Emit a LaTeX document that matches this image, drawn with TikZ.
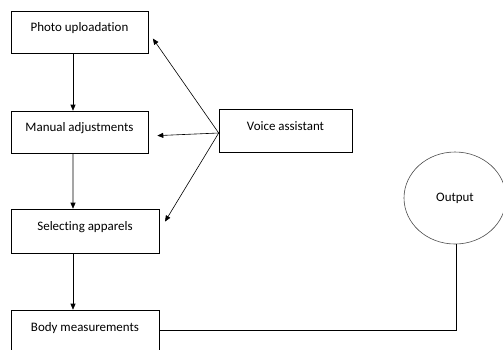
\documentclass[tikz,border=0pt]{standalone}
\usepackage{fontspec}
\setmainfont{Carlito}[Ligatures={NoCommon}]
\usepackage{tikz}
\usetikzlibrary{shapes,arrows.meta,positioning,calc}

\tikzset{
    stagebox/.style={draw, line width=0.6bp, inner sep=0pt, align=center,
        font=\fontsize{13}{15}\selectfont},
    flowarrow/.style={line width=0.6bp, -{Triangle[length=6bp,width=5bp]}}
}

\begin{document}
\begin{tikzpicture}[x=1bp, y=-1bp]
    \clip (0,0) rectangle (503,349);
    % pipeline boxes on the left
    \node[stagebox, minimum width=137bp, minimum height=42bp, text height=20bp, text depth=22bp] (photo) at (79.5,32) {Photo uploadation};
    \node[stagebox, minimum width=137bp, minimum height=42bp, text height=20bp, text depth=22bp] (manual) at (79.5,132) {Manual adjustments};
    \node[stagebox, minimum width=148bp, minimum height=44bp, text height=21bp, text depth=23bp] (selecting) at (85,231) {Selecting apparels};
    \node[stagebox, minimum width=148bp, minimum height=44bp, text height=21bp, text depth=23bp] (body) at (85,332) {Body measurements};

    \node[stagebox, minimum width=133bp, minimum height=43bp, text height=21bp, text depth=22bp] (voice) at (285.5,130.5) {Voice assistant};
    \node[draw=black!70, line width=0.6bp, ellipse, minimum width=102bp, minimum height=92bp, inner sep=0pt,
        font=\fontsize{13}{15}\selectfont] (output) at (455,198) {Output};

    % main flow
    \draw[flowarrow] ([xshift=-6.5bp]photo.south) -- ([xshift=-6.5bp]manual.north);
    \draw[flowarrow] ([xshift=-6.5bp]manual.south) -- ([xshift=-12bp]selecting.north);
    \draw[flowarrow] ([xshift=-12bp]selecting.south) -- ([xshift=-12bp]body.north);

    % voice assistant links
    \draw[flowarrow, shorten >=8bp] ([yshift=-2.5bp]voice.west) -- (photo.east);
    \draw[flowarrow, shorten >=9bp] ([yshift=-2.5bp]voice.west) -- ([yshift=-4bp]manual.east);
    \draw[flowarrow, shorten >=11bp] ([yshift=-2.5bp]voice.west) -- (selecting.east);

    \draw[line width=0.6bp] ([yshift=2bp]body.east) -| ([xshift=1bp]output.south);
\end{tikzpicture}
\end{document}
